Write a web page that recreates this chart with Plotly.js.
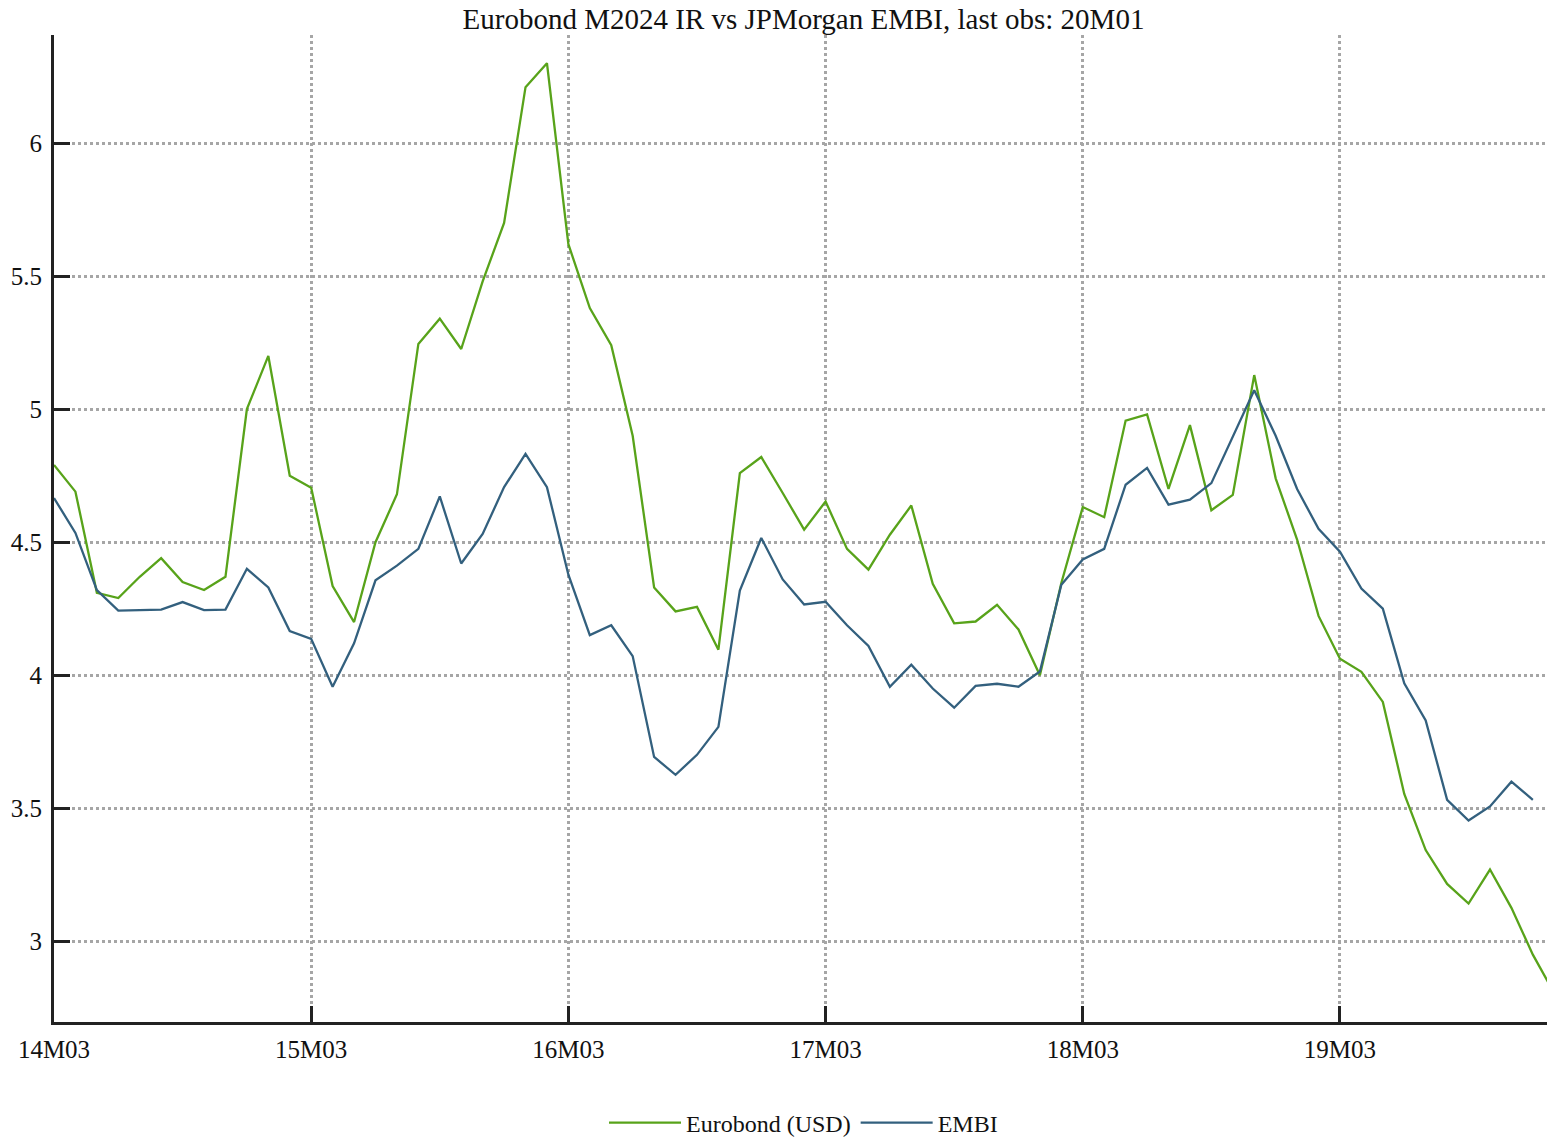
<!DOCTYPE html>
<html>
<head>
<meta charset="utf-8">
<script src="https://cdn.plot.ly/plotly-3.0.1.min.js"></script>
<style>
html,body{margin:0;padding:0;background:#fff;}
#chart{width:1547px;height:1138px;}
</style>
</head>
<body>
<div id="chart"></div>
<script>
// Monthly observations 14M03 .. 20M01
const startYear = 14, startMonth = 3;
const eurobond = [
  4.79, 4.69, 4.31, 4.29, 4.37, 4.44, 4.35, 4.32, 4.37, 5.00,
  5.20, 4.75, 4.705, 4.335, 4.20, 4.50, 4.68, 5.245, 5.34, 5.226,
  5.48, 5.70, 6.21, 6.30, 5.62, 5.38, 5.24, 4.90, 4.33, 4.24,
  4.257, 4.096, 4.76, 4.82, 4.685, 4.547, 4.653, 4.475, 4.397, 4.528,
  4.638, 4.344, 4.195, 4.202, 4.265, 4.172, 4.00, 4.347, 4.632, 4.594,
  4.957, 4.98, 4.70, 4.94, 4.62, 4.678, 5.128, 4.74, 4.51, 4.223,
  4.062, 4.013, 3.90, 3.554, 3.343, 3.216, 3.142, 3.27, 3.126, 2.95,
  2.805
];
const embi = [
  4.666, 4.535, 4.32, 4.243, 4.245, 4.247, 4.275, 4.245, 4.247, 4.40,
  4.33, 4.166, 4.137, 3.957, 4.12, 4.357, 4.412, 4.475, 4.672, 4.42,
  4.531, 4.707, 4.832, 4.707, 4.378, 4.151, 4.188, 4.072, 3.693, 3.626,
  3.701, 3.806, 4.318, 4.516, 4.36, 4.266, 4.276, 4.188, 4.11, 3.957,
  4.04, 3.95, 3.878, 3.96, 3.968, 3.957, 4.014, 4.34, 4.435, 4.475,
  4.716, 4.779, 4.641, 4.66, 4.722, 4.897, 5.071, 4.90, 4.70, 4.55,
  4.464, 4.326, 4.25, 3.97, 3.83, 3.532, 3.454, 3.507, 3.60, 3.532
];
const yTicks = [3, 3.5, 4, 4.5, 5, 5.5, 6];
const yTickText = ['3', '3.5', '4', '4.5', '5', '5.5', '6'];

// period labels
const periods = [];
for (let i = 0; i < eurobond.length; i++) {
  const m = startMonth - 1 + i;
  const yy = startYear + Math.floor(m / 12);
  const mm = (m % 12) + 1;
  periods.push(String(yy).padStart(2, '0') + 'M' + String(mm).padStart(2, '0'));
}
const idx = periods.map((_, i) => i);
const xTickVals = idx.filter(i => periods[i].endsWith('M03'));
const xTickText = xTickVals.map(i => periods[i]);

const font = 'Liberation Serif, Times New Roman, serif';
const traces = [
  {x: idx.slice(0, eurobond.length), y: eurobond, type: 'scatter', mode: 'lines',
   name: 'Eurobond (USD)', line: {color: '#58a31a', width: 2.3}, text: periods},
  {x: idx.slice(0, embi.length), y: embi, type: 'scatter', mode: 'lines',
   name: 'EMBI', line: {color: '#33607e', width: 2.3}, text: periods}
];
const layout = {
  width: 1547, height: 1138,
  paper_bgcolor: '#fff', plot_bgcolor: '#fff',
  margin: {l: 54, r: 0, t: 35, b: 116, pad: 0, autoexpand: false},
  font: {family: font, size: 24, color: '#111'},
  title: {text: 'Eurobond M2024 IR vs JPMorgan EMBI, last obs: 20M01',
          font: {family: font, size: 29, color: '#111'},
          x: 803.5 / 1547, xref: 'container', xanchor: 'center',
          y: 1 - 19 / 1138, yref: 'container', yanchor: 'middle'},
  xaxis: {
    range: [0, 69.66], tickvals: xTickVals, ticktext: xTickText,
    showline: true, linecolor: '#222', linewidth: 3,
    ticks: 'inside', ticklen: 16, tickwidth: 3, tickcolor: '#222',
    showgrid: true, gridcolor: '#a6a6a6', gridwidth: 3, griddash: 'dot',
    zeroline: false, tickfont: {family: font, size: 25, color: '#111'},
    ticklabelstandoff: 3
  },
  yaxis: {
    range: [2.697, 6.406], tickvals: yTicks, ticktext: yTickText,
    showline: true, linecolor: '#222', linewidth: 3,
    ticks: 'inside', ticklen: 16, tickwidth: 3, tickcolor: '#222',
    showgrid: true, gridcolor: '#a6a6a6', gridwidth: 3, griddash: 'dot',
    zeroline: false, tickfont: {family: font, size: 25, color: '#111'},
    ticklabelstandoff: 4
  },
  showlegend: true,
  legend: {orientation: 'h', x: 803.5 / 1547, xref: 'container', xanchor: 'center',
           y: 1 - 1123 / 1138, yref: 'container', yanchor: 'middle',
           font: {family: font, size: 24, color: '#111'}, bgcolor: 'rgba(0,0,0,0)',
           itemwidth: 72, tracegroupgap: 0}
};
Plotly.newPlot('chart', traces, layout, {displayModeBar: false, staticPlot: true});
</script>
</body>
</html>
